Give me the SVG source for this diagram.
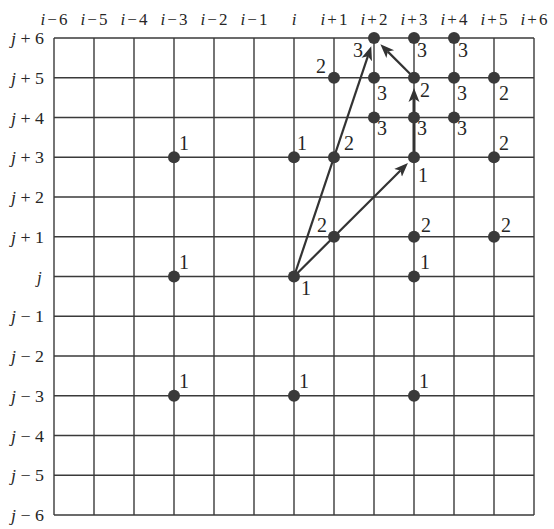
<svg xmlns="http://www.w3.org/2000/svg" width="554" height="529" viewBox="0 0 554 529">
<style>
.grid line{stroke:#3a3a3a;stroke-width:1.4}
.ax{font-family:"Liberation Serif",serif;font-size:17px;fill:#262626}
.ax .v{font-style:italic}
.num{font-family:"Liberation Serif",serif;font-size:20px;fill:#262626}
.dot{fill:#3a3a3a}
.arr{stroke:#333;stroke-width:2.2;fill:none;marker-end:url(#ah)}
</style>
<defs>
<marker id="ah" markerUnits="userSpaceOnUse" markerWidth="18" markerHeight="14" viewBox="0 -7 18 14" refX="3.5" refY="0" orient="auto">
<path d="M0,-5.5 L14,0 L0,5.5 L3.5,0 Z" fill="#333"/>
</marker>
</defs>
<rect width="554" height="529" fill="#fff"/>
<g class="grid" id="grid">
<line x1="54" y1="38" x2="54" y2="515"/><line x1="94" y1="38" x2="94" y2="515"/><line x1="134" y1="38" x2="134" y2="515"/><line x1="174" y1="38" x2="174" y2="515"/><line x1="214" y1="38" x2="214" y2="515"/><line x1="254" y1="38" x2="254" y2="515"/><line x1="294" y1="38" x2="294" y2="515"/><line x1="334" y1="38" x2="334" y2="515"/><line x1="374" y1="38" x2="374" y2="515"/><line x1="414" y1="38" x2="414" y2="515"/><line x1="454" y1="38" x2="454" y2="515"/><line x1="494" y1="38" x2="494" y2="515"/><line x1="534" y1="38" x2="534" y2="515"/>
<line x1="54" y1="38" x2="534" y2="38"/><line x1="54" y1="77.75" x2="534" y2="77.75"/><line x1="54" y1="117.5" x2="534" y2="117.5"/><line x1="54" y1="157.25" x2="534" y2="157.25"/><line x1="54" y1="197" x2="534" y2="197"/><line x1="54" y1="236.75" x2="534" y2="236.75"/><line x1="54" y1="276.5" x2="534" y2="276.5"/><line x1="54" y1="316.25" x2="534" y2="316.25"/><line x1="54" y1="356" x2="534" y2="356"/><line x1="54" y1="395.75" x2="534" y2="395.75"/><line x1="54" y1="435.5" x2="534" y2="435.5"/><line x1="54" y1="475.25" x2="534" y2="475.25"/><line x1="54" y1="515" x2="534" y2="515"/>
</g>
<g id="col-labels" class="ax" text-anchor="middle">
<text x="54" y="25"><tspan class="v">i</tspan><tspan dx="2">−</tspan><tspan dx="2">6</tspan></text>
<text x="94" y="25"><tspan class="v">i</tspan><tspan dx="2">−</tspan><tspan dx="2">5</tspan></text>
<text x="134" y="25"><tspan class="v">i</tspan><tspan dx="2">−</tspan><tspan dx="2">4</tspan></text>
<text x="174" y="25"><tspan class="v">i</tspan><tspan dx="2">−</tspan><tspan dx="2">3</tspan></text>
<text x="214" y="25"><tspan class="v">i</tspan><tspan dx="2">−</tspan><tspan dx="2">2</tspan></text>
<text x="254" y="25"><tspan class="v">i</tspan><tspan dx="2">−</tspan><tspan dx="2">1</tspan></text>
<text x="294" y="25"><tspan class="v">i</tspan></text>
<text x="334" y="25"><tspan class="v">i</tspan><tspan dx="2">+</tspan><tspan dx="2">1</tspan></text>
<text x="374" y="25"><tspan class="v">i</tspan><tspan dx="2">+</tspan><tspan dx="2">2</tspan></text>
<text x="414" y="25"><tspan class="v">i</tspan><tspan dx="2">+</tspan><tspan dx="2">3</tspan></text>
<text x="454" y="25"><tspan class="v">i</tspan><tspan dx="2">+</tspan><tspan dx="2">4</tspan></text>
<text x="494" y="25"><tspan class="v">i</tspan><tspan dx="2">+</tspan><tspan dx="2">5</tspan></text>
<text x="534" y="25"><tspan class="v">i</tspan><tspan dx="2">+</tspan><tspan dx="2">6</tspan></text>
</g>
<g id="row-labels" class="ax">
<text x="11" y="44" textLength="33" lengthAdjust="spacingAndGlyphs"><tspan class="v">j</tspan> + 6</text>
<text x="11" y="83.75" textLength="33" lengthAdjust="spacingAndGlyphs"><tspan class="v">j</tspan> + 5</text>
<text x="11" y="123.5" textLength="33" lengthAdjust="spacingAndGlyphs"><tspan class="v">j</tspan> + 4</text>
<text x="11" y="163.25" textLength="33" lengthAdjust="spacingAndGlyphs"><tspan class="v">j</tspan> + 3</text>
<text x="11" y="203" textLength="33" lengthAdjust="spacingAndGlyphs"><tspan class="v">j</tspan> + 2</text>
<text x="11" y="242.75" textLength="33" lengthAdjust="spacingAndGlyphs"><tspan class="v">j</tspan> + 1</text>
<text x="37" y="282.5" font-size="17"><tspan class="v">j</tspan></text>
<text x="11" y="322.25" textLength="33" lengthAdjust="spacingAndGlyphs"><tspan class="v">j</tspan> − 1</text>
<text x="11" y="362" textLength="33" lengthAdjust="spacingAndGlyphs"><tspan class="v">j</tspan> − 2</text>
<text x="11" y="401.75" textLength="33" lengthAdjust="spacingAndGlyphs"><tspan class="v">j</tspan> − 3</text>
<text x="11" y="441.5" textLength="33" lengthAdjust="spacingAndGlyphs"><tspan class="v">j</tspan> − 4</text>
<text x="11" y="481.25" textLength="33" lengthAdjust="spacingAndGlyphs"><tspan class="v">j</tspan> − 5</text>
<text x="11" y="521" textLength="33" lengthAdjust="spacingAndGlyphs"><tspan class="v">j</tspan> − 6</text>
</g>
<g id="connectors">
<line class="arr" x1="294" y1="276.5" x2="400.5" y2="170.5"/>
<line class="arr" x1="294" y1="276.5" x2="367.9" y2="56.2"/>
<line class="arr" x1="414" y1="157.25" x2="414" y2="98.5" style="stroke-width:3"/>
<line class="arr" x1="414" y1="77.75" x2="387.8" y2="51.6"/>
</g>
<g id="n-im3-jp3"><circle class="dot" cx="174" cy="157.25" r="6"/><text class="num" x="179" y="150">1</text></g>
<g id="n-im3-j"><circle class="dot" cx="174" cy="276.5" r="6"/><text class="num" x="179" y="269">1</text></g>
<g id="n-im3-jm3"><circle class="dot" cx="174" cy="395.75" r="6"/><text class="num" x="179" y="388">1</text></g>
<g id="n-i-jp3"><circle class="dot" cx="294" cy="157.25" r="6"/><text class="num" x="297" y="150">1</text></g>
<g id="n-i-j"><circle class="dot" cx="294" cy="276.5" r="6"/><text class="num" x="301" y="295">1</text></g>
<g id="n-i-jm3"><circle class="dot" cx="294" cy="395.75" r="6"/><text class="num" x="299" y="388">1</text></g>
<g id="n-ip3-jm3"><circle class="dot" cx="414" cy="395.75" r="6"/><text class="num" x="419" y="388">1</text></g>
<g id="n-ip3-j"><circle class="dot" cx="414" cy="276.5" r="6"/><text class="num" x="420" y="269">1</text></g>
<g id="n-ip3-jp1"><circle class="dot" cx="414" cy="236.75" r="6"/><text class="num" x="421" y="232">2</text></g>
<g id="n-ip1-jp1"><circle class="dot" cx="334" cy="236.75" r="6"/><text class="num" x="317" y="232">2</text></g>
<g id="n-ip5-jp1"><circle class="dot" cx="494" cy="236.75" r="6"/><text class="num" x="501" y="232">2</text></g>
<g id="n-ip3-jp3"><circle class="dot" cx="414" cy="157.25" r="6"/><text class="num" x="418" y="182">1</text></g>
<g id="n-ip1-jp3"><circle class="dot" cx="334" cy="157.25" r="6"/><text class="num" x="344" y="150">2</text></g>
<g id="n-ip5-jp3"><circle class="dot" cx="494" cy="157.25" r="6"/><text class="num" x="499" y="150">2</text></g>
<g id="n-ip2-jp4"><circle class="dot" cx="374" cy="117.5" r="6"/><text class="num" x="377" y="135">3</text></g>
<g id="n-ip3-jp4"><circle class="dot" cx="414" cy="117.5" r="6"/><text class="num" x="417" y="135">3</text></g>
<g id="n-ip4-jp4"><circle class="dot" cx="454" cy="117.5" r="6"/><text class="num" x="457" y="135">3</text></g>
<g id="n-ip1-jp5"><circle class="dot" cx="334" cy="77.75" r="6"/><text class="num" x="316" y="73">2</text></g>
<g id="n-ip2-jp5"><circle class="dot" cx="374" cy="77.75" r="6"/><text class="num" x="377" y="100">3</text></g>
<g id="n-ip3-jp5"><circle class="dot" cx="414" cy="77.75" r="6"/><text class="num" x="420" y="97">2</text></g>
<g id="n-ip4-jp5"><circle class="dot" cx="454" cy="77.75" r="6"/><text class="num" x="457" y="100">3</text></g>
<g id="n-ip5-jp5"><circle class="dot" cx="494" cy="77.75" r="6"/><text class="num" x="499" y="100">2</text></g>
<g id="n-ip2-jp6"><circle class="dot" cx="374" cy="38" r="6"/><text class="num" x="353" y="57">3</text></g>
<g id="n-ip3-jp6"><circle class="dot" cx="414" cy="38" r="6"/><text class="num" x="417" y="57">3</text></g>
<g id="n-ip4-jp6"><circle class="dot" cx="454" cy="38" r="6"/><text class="num" x="458" y="57">3</text></g>
</svg>
